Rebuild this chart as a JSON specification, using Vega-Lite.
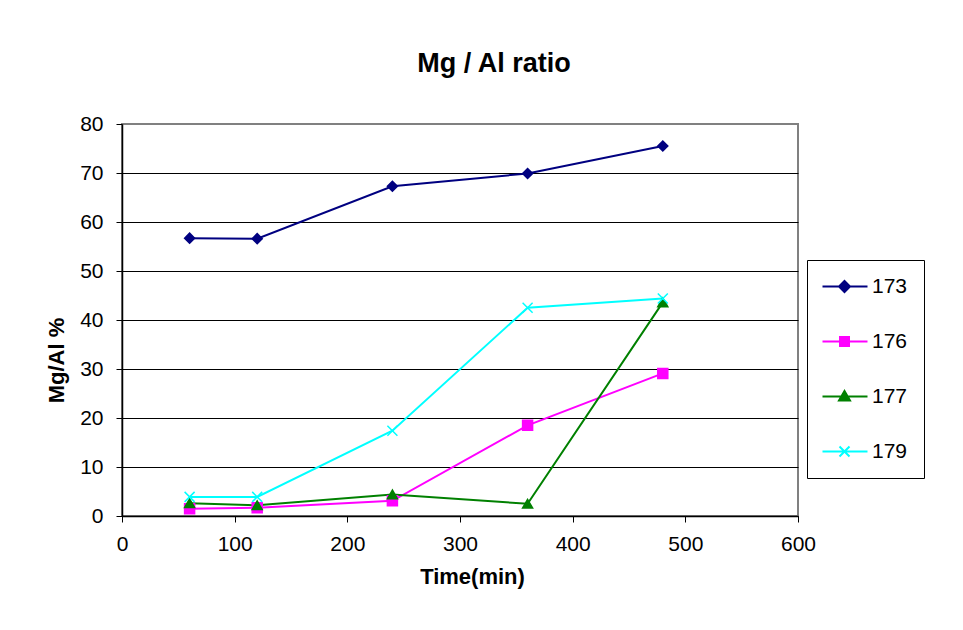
{
  "$schema": "https://vega.github.io/schema/vega-lite/v6.json",
  "width": 676,
  "height": 392,
  "autosize": {"type": "none"},
  "padding": {"left": 122, "top": 124, "right": 165, "bottom": 114},
  "background": "white",
  "title": {
    "text": "Mg / Al ratio",
    "fontSize": 27,
    "fontWeight": "bold",
    "color": "black",
    "anchor": "middle",
    "frame": "group",
    "baseline": "alphabetic",
    "dx": 34,
    "offset": 14
  },
  "data": {
    "values": [
      {"time": 60, "series": "173", "value": 56.7},
      {"time": 120, "series": "173", "value": 56.6},
      {"time": 240, "series": "173", "value": 67.3},
      {"time": 360, "series": "173", "value": 69.9},
      {"time": 480, "series": "173", "value": 75.5},
      {"time": 60, "series": "176", "value": 1.5},
      {"time": 120, "series": "176", "value": 1.7},
      {"time": 240, "series": "176", "value": 3.1},
      {"time": 360, "series": "176", "value": 18.5},
      {"time": 480, "series": "176", "value": 29.1},
      {"time": 60, "series": "177", "value": 2.6},
      {"time": 120, "series": "177", "value": 2.2},
      {"time": 240, "series": "177", "value": 4.4},
      {"time": 360, "series": "177", "value": 2.5},
      {"time": 480, "series": "177", "value": 43.6},
      {"time": 60, "series": "179", "value": 3.9},
      {"time": 120, "series": "179", "value": 3.9},
      {"time": 240, "series": "179", "value": 17.4},
      {"time": 360, "series": "179", "value": 42.5},
      {"time": 480, "series": "179", "value": 44.4}
    ]
  },
  "encoding": {
    "x": {
      "field": "time",
      "type": "quantitative",
      "scale": {"domain": [0, 600], "nice": false, "zero": true},
      "axis": {
        "title": "Time(min)",
        "values": [0, 100, 200, 300, 400, 500, 600],
        "grid": false,
        "labelFlush": false,
        "labelPadding": 11,
        "titleX": 350,
        "titleY": 67,
        "titleBaseline": "alphabetic"
      }
    },
    "y": {
      "field": "value",
      "type": "quantitative",
      "scale": {"domain": [0, 80], "nice": false},
      "axis": {
        "title": "Mg/Al %",
        "values": [0, 10, 20, 30, 40, 50, 60, 70, 80],
        "grid": true,
        "gridColor": "black",
        "gridWidth": 1,
        "gridOpacity": {"condition": {"test": "datum.value === 80", "value": 0}, "value": 1},
        "labelFlush": false,
        "labelPadding": 13,
        "titleX": -59,
        "titleY": 236,
        "titleAlign": "center",
        "titleBaseline": "alphabetic",
        "titleAngle": -90
      }
    },
    "color": {
      "field": "series",
      "type": "nominal",
      "scale": {
        "domain": ["173", "176", "177", "179"],
        "range": ["#000080", "#FF00FF", "#008000", "#00FFFF"]
      },
      "legend": null
    }
  },
  "resolve": {"scale": {"shape": "independent"}},
  "layer": [
    {
      "mark": {"type": "line", "strokeWidth": 2}
    },
    {
      "mark": {"type": "point", "filled": true, "size": 100, "opacity": 1, "strokeWidth": 1.5},
      "encoding": {
        "stroke": {
          "field": "series",
          "type": "nominal",
          "scale": {
            "domain": ["173", "176", "177", "179"],
            "range": ["#000080", "#FF00FF", "#008000", "#00FFFF"]
          },
          "legend": null
        },
        "shape": {
          "field": "series",
          "type": "nominal",
          "scale": {
            "domain": ["173", "176", "177", "179"],
            "range": ["diamond", "square", "triangle-up", "M-1,-1L1,1M-1,1L1,-1"]
          },
          "legend": null
        }
      }
    },
    {
      "mark": {"type": "point", "filled": true, "size": 100, "opacity": 0},
      "encoding": {
        "shape": {
          "field": "series",
          "type": "nominal",
          "scale": {
            "range": [
              "M-2.2,0H6.8M2.2,-1.1L3.3,0L2.2,1.1L1.1,0Z",
              "M-2.2,0H6.8M1.3,-0.9H3.1V0.9H1.3Z",
              "M-2.2,0H6.8M2.2,-1.1L3.3,0.8H1.1Z",
              "M-2.2,0H6.8M1.2,-1L3.2,1M1.2,1L3.2,-1"
            ]
          },
          "legend": {
            "orient": "none",
            "legendX": 685,
            "legendY": 136,
            "title": null,
            "symbolSize": 100,
            "symbolOpacity": 1,
            "symbolStrokeWidth": 2,
            "labelFontSize": 21,
            "labelColor": "black",
            "labelOffset": 28,
            "padding": 16,
            "rowPadding": 33,
            "strokeColor": "black",
            "fillColor": "white",
            "encoding": {
              "symbols": {
                "fill": {"value": {"expr": "scale('color', datum.value)"}},
                "stroke": {"value": {"expr": "scale('color', datum.value)"}},
                "opacity": {"value": 1}
              }
            }
          }
        }
      }
    }
  ],
  "config": {
    "font": "Liberation Sans",
    "view": {"stroke": "#808080", "strokeWidth": 2},
    "axis": {
      "domainColor": "black",
      "domainWidth": 1.5,
      "tickColor": "black",
      "tickSize": 6,
      "tickWidth": 1,
      "labelFontSize": 21,
      "labelColor": "black",
      "titleFontSize": 22,
      "titleFontWeight": "bold",
      "titleColor": "black"
    }
  }
}
